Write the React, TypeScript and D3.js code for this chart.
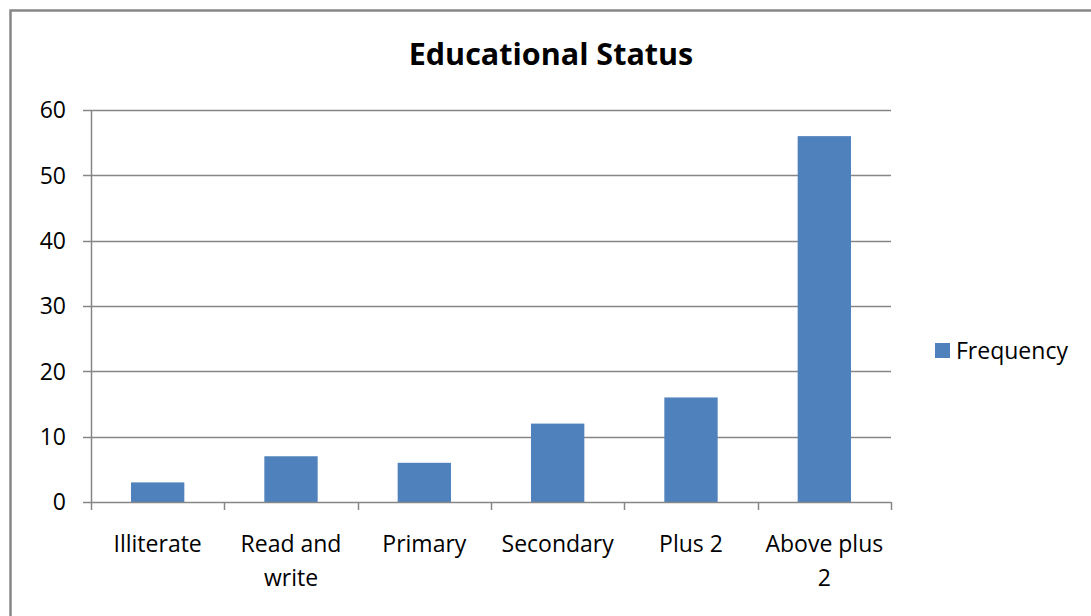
import React, { useEffect, useRef } from "react";
import * as d3 from "d3";

const categories = ["Illiterate", "Read and write", "Primary", "Secondary", "Plus 2", "Above plus 2"];
const frequency = [3, 7, 6, 12, 16, 56];
const yTicks = [0, 10, 20, 30, 40, 50, 60];
const seriesName = "Frequency";
const title = "Educational Status";

const W = 1091;
const H = 616;
const FONT = "'Open Sans', 'Noto Sans', sans-serif";
const GRID = "#868686";
const BAR = "#4F81BD";

export default function App() {
  const ref = useRef<SVGSVGElement | null>(null);

  useEffect(() => {
    const svg = d3.select(ref.current);
    svg.selectAll("*").remove();

    const left = 91, right = 891, top = 110, bottom = 502;

    const x = d3.scaleBand<string>().domain(categories).range([left, right]).paddingInner(0.6).paddingOuter(0.3);
    const band = d3.scaleBand<string>().domain(categories).range([left, right]);
    const y = d3.scaleLinear().domain([0, 60]).range([bottom, top]);

    // chart frame
    svg.append("rect")
      .attr("x", 10.5).attr("y", 10.5)
      .attr("width", W + 20).attr("height", H + 20)
      .attr("fill", "white").attr("stroke", GRID).attr("stroke-width", 2.5);

    // title
    svg.append("text")
      .attr("x", 551).attr("y", 65)
      .attr("text-anchor", "middle")
      .attr("font-family", FONT).attr("font-weight", 700).attr("font-size", 30.5)
      .attr("fill", "#000")
      .text(title);

    // gridlines
    svg.append("g").selectAll("line").data(yTicks.filter(d => d > 0)).join("line")
      .attr("x1", left).attr("x2", right)
      .attr("y1", d => Math.round(y(d)) + 0.5).attr("y2", d => Math.round(y(d)) + 0.5)
      .attr("stroke", GRID).attr("stroke-width", 1.5);

    // y ticks and labels
    const yg = svg.append("g");
    yg.selectAll("line").data(yTicks).join("line")
      .attr("x1", left - 8).attr("x2", left)
      .attr("y1", d => Math.round(y(d)) + 0.5).attr("y2", d => Math.round(y(d)) + 0.5)
      .attr("stroke", GRID).attr("stroke-width", 1.5);
    yg.selectAll("text").data(yTicks).join("text")
      .attr("x", 66).attr("y", d => y(d))
      .attr("dy", "0.36em")
      .attr("text-anchor", "end")
      .attr("font-family", FONT).attr("font-size", 23)
      .attr("fill", "#000")
      .text(d => String(d));

    // bars
    svg.append("g").selectAll("rect").data(categories).join("rect")
      .attr("x", d => x(d)!)
      .attr("width", x.bandwidth())
      .attr("y", (d, i) => y(frequency[i]))
      .attr("height", (d, i) => bottom - y(frequency[i]))
      .attr("fill", BAR);

    // axes lines
    svg.append("line")
      .attr("x1", left + 0.5).attr("x2", left + 0.5).attr("y1", top).attr("y2", bottom)
      .attr("stroke", GRID).attr("stroke-width", 1.5);
    svg.append("line")
      .attr("x1", left).attr("x2", right).attr("y1", bottom + 0.5).attr("y2", bottom + 0.5)
      .attr("stroke", GRID).attr("stroke-width", 1.5);

    // x ticks at category boundaries
    const bounds = categories.map(c => band(c)!).concat([right]);
    svg.append("g").selectAll("line").data(bounds).join("line")
      .attr("x1", d => Math.round(d) + 0.5).attr("x2", d => Math.round(d) + 0.5)
      .attr("y1", bottom).attr("y2", bottom + 8)
      .attr("stroke", GRID).attr("stroke-width", 1.5);

    // x labels, wrapped to band width
    const maxW = band.bandwidth() - 8;
    const xl = svg.append("g");
    categories.forEach(c => {
      const cx = band(c)! + band.bandwidth() / 2;
      const t = xl.append("text")
        .attr("text-anchor", "middle")
        .attr("font-family", FONT).attr("font-size", 23)
        .attr("fill", "#000");
      const words = c.split(" ");
      let line: string[] = [];
      let lineNo = 0;
      let tspan = t.append("tspan").attr("x", cx).attr("y", 552);
      words.forEach(w => {
        line.push(w);
        tspan.text(line.join(" "));
        const node = tspan.node() as SVGTextContentElement;
        if (node.getComputedTextLength() > maxW && line.length > 1) {
          line.pop();
          tspan.text(line.join(" "));
          line = [w];
          lineNo += 1;
          tspan = t.append("tspan").attr("x", cx).attr("y", 552 + lineNo * 34).text(w);
        }
      });
    });

    // legend
    const lg = svg.append("g");
    lg.append("rect").attr("x", 935).attr("y", 343).attr("width", 15).attr("height", 15).attr("fill", BAR);
    lg.append("text")
      .attr("x", 956).attr("y", 359)
      .attr("font-family", FONT).attr("font-size", 23)
      .attr("fill", "#000")
      .text(seriesName);
  }, []);

  return (
    <svg ref={ref} width={W} height={H} style={{ position: "absolute", left: 0, top: 0, display: "block" }} />
  );
}
